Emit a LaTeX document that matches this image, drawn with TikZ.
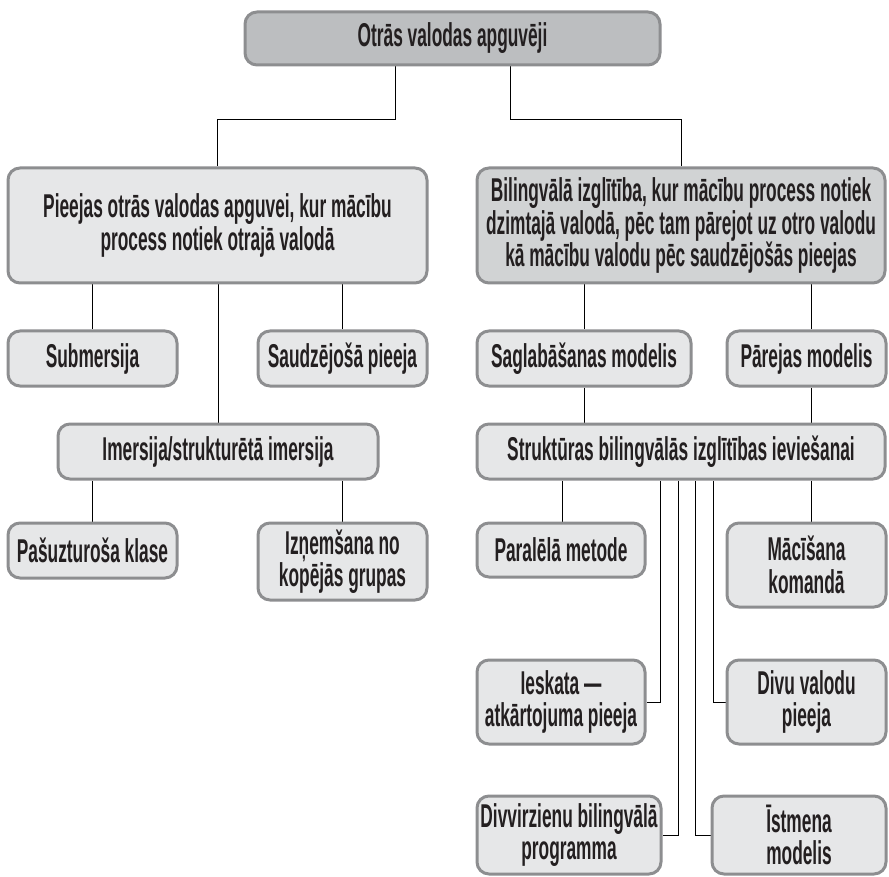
\documentclass[tikz,border=0pt]{standalone}
\usepackage{fontspec}
\setmainfont{Liberation Sans}[FakeStretch=0.525]
\usetikzlibrary{backgrounds}
\definecolor{bordergray}{HTML}{8D8E90}
\definecolor{lightfill}{HTML}{E6E7E8}
\definecolor{midfill}{HTML}{D1D3D4}
\definecolor{darkfill}{HTML}{BCBEC0}
\definecolor{txt}{HTML}{231F20}
\begin{document}
\begin{tikzpicture}[x=1pt,y=-1pt,
  box/.style={draw=bordergray, line width=3pt, rounded corners=12pt, fill=lightfill,
    align=center, inner sep=0pt, text=txt,
    font=\fontsize{33}{32.5}\selectfont\bfseries},
  conn/.style={draw=black, line width=1pt}]
\useasboundingbox (0,0) rectangle (889,877);

\node[box, fill=darkfill, minimum width=415pt, minimum height=53pt] (top) at (452.5,38.5) {Otrās valodas apguvēji};

\node[box, minimum width=419pt, minimum height=115pt] (pieejas) at (217.5,225.5)
  {Pieejas otrās valodas apguvei, kur mācību\\process notiek otrajā valodā};
\node[box, fill=midfill, minimum width=408pt, minimum height=115pt] (biling) at (681,225.5)
  {Bilingvālā izglītība, kur mācību process notiek\\dzimtajā valodā, pēc tam pārejot uz otro valodu\\kā mācību valodu pēc saudzējošās pieejas};

\node[box, minimum width=169pt, minimum height=55pt] (sub) at (92.5,358.5) {Submersija};
\node[box, minimum width=169pt, minimum height=55pt] (saud) at (342.5,358.5) {Saudzējošā pieeja};
\node[box, minimum width=320pt, minimum height=55pt] (imer) at (218,451.5) {Imersija/strukturētā imersija};
\node[box, minimum width=169pt, minimum height=55pt] (pasu) at (92.5,550.5) {Pašuzturoša klase};
\node[box, minimum width=169pt, minimum height=77pt] (izn) at (342.5,561.5) {Izņemšana no\\kopējās grupas};

\node[box, minimum width=214pt, minimum height=55pt] (sagl) at (584,358.5) {Saglabāšanas modelis};
\node[box, minimum width=159pt, minimum height=55pt] (parej) at (806.5,358.5) {Pārejas modelis};
\node[box, minimum width=408pt, minimum height=55pt] (strukt) at (681,451.5) {Struktūras bilingvālās izglītības ieviešanai};

\node[box, minimum width=168pt, minimum height=54pt] (paral) at (561,550) {Paralēlā metode};
\node[box, minimum width=159pt, minimum height=84pt] (maci) at (806.5,565) {Mācīšana\\komandā};
\node[box, minimum width=168pt, minimum height=84pt] (iesk) at (561,702) {Ieskata —\\atkārtojuma pieeja};
\node[box, minimum width=159pt, minimum height=84pt] (divu) at (806.5,702) {Divu valodu\\pieeja};
\node[box, minimum width=184pt, minimum height=78pt] (divv) at (569,835) {Divvirzienu bilingvālā\\programma};
\node[box, minimum width=174pt, minimum height=78pt] (istm) at (799,835) {Īstmena\\modelis};

\coordinate (jl) at (395,120);
\coordinate (jr) at (510,120);
\coordinate (xa) at (660,0);
\coordinate (xb) at (678,0);
\coordinate (xc) at (695,0);
\coordinate (xd) at (713,0);
\coordinate (xp) at (811,0);
\coordinate (xq) at (562,0);

\begin{scope}[on background layer]
\draw[conn] (top.south -| jl) -- (jl) -| (pieejas.north);
\draw[conn] (top.south -| jr) -- (jr) -| (biling.north);
\draw[conn] (pieejas.south -| sub.north) -- (sub.north);
\draw[conn] (pieejas.south -| saud.north) -- (saud.north);
\draw[conn] (pieejas.south -| imer.north) -- (imer.north);
\draw[conn] (imer.south -| pasu.north) -- (pasu.north);
\draw[conn] (imer.south -| izn.north) -- (izn.north);
\draw[conn] (biling.south -| sagl.north) -- (sagl.north);
\draw[conn] (biling.south -| xp) -- (parej.north -| xp);
\draw[conn] (sagl.south) -- (strukt.north -| sagl.south);
\draw[conn] (parej.south -| xp) -- (strukt.north -| xp);
\draw[conn] (strukt.south -| xq) -- (paral.north -| xq);
\draw[conn] (strukt.south -| xp) -- (maci.north -| xp);
\draw[conn] (strukt.south -| xa) |- (iesk.east);
\draw[conn] (strukt.south -| xb) |- (divv.east);
\draw[conn] (strukt.south -| xc) |- (istm.west);
\draw[conn] (strukt.south -| xd) |- (divu.west);
\end{scope}
\end{tikzpicture}
\end{document}
